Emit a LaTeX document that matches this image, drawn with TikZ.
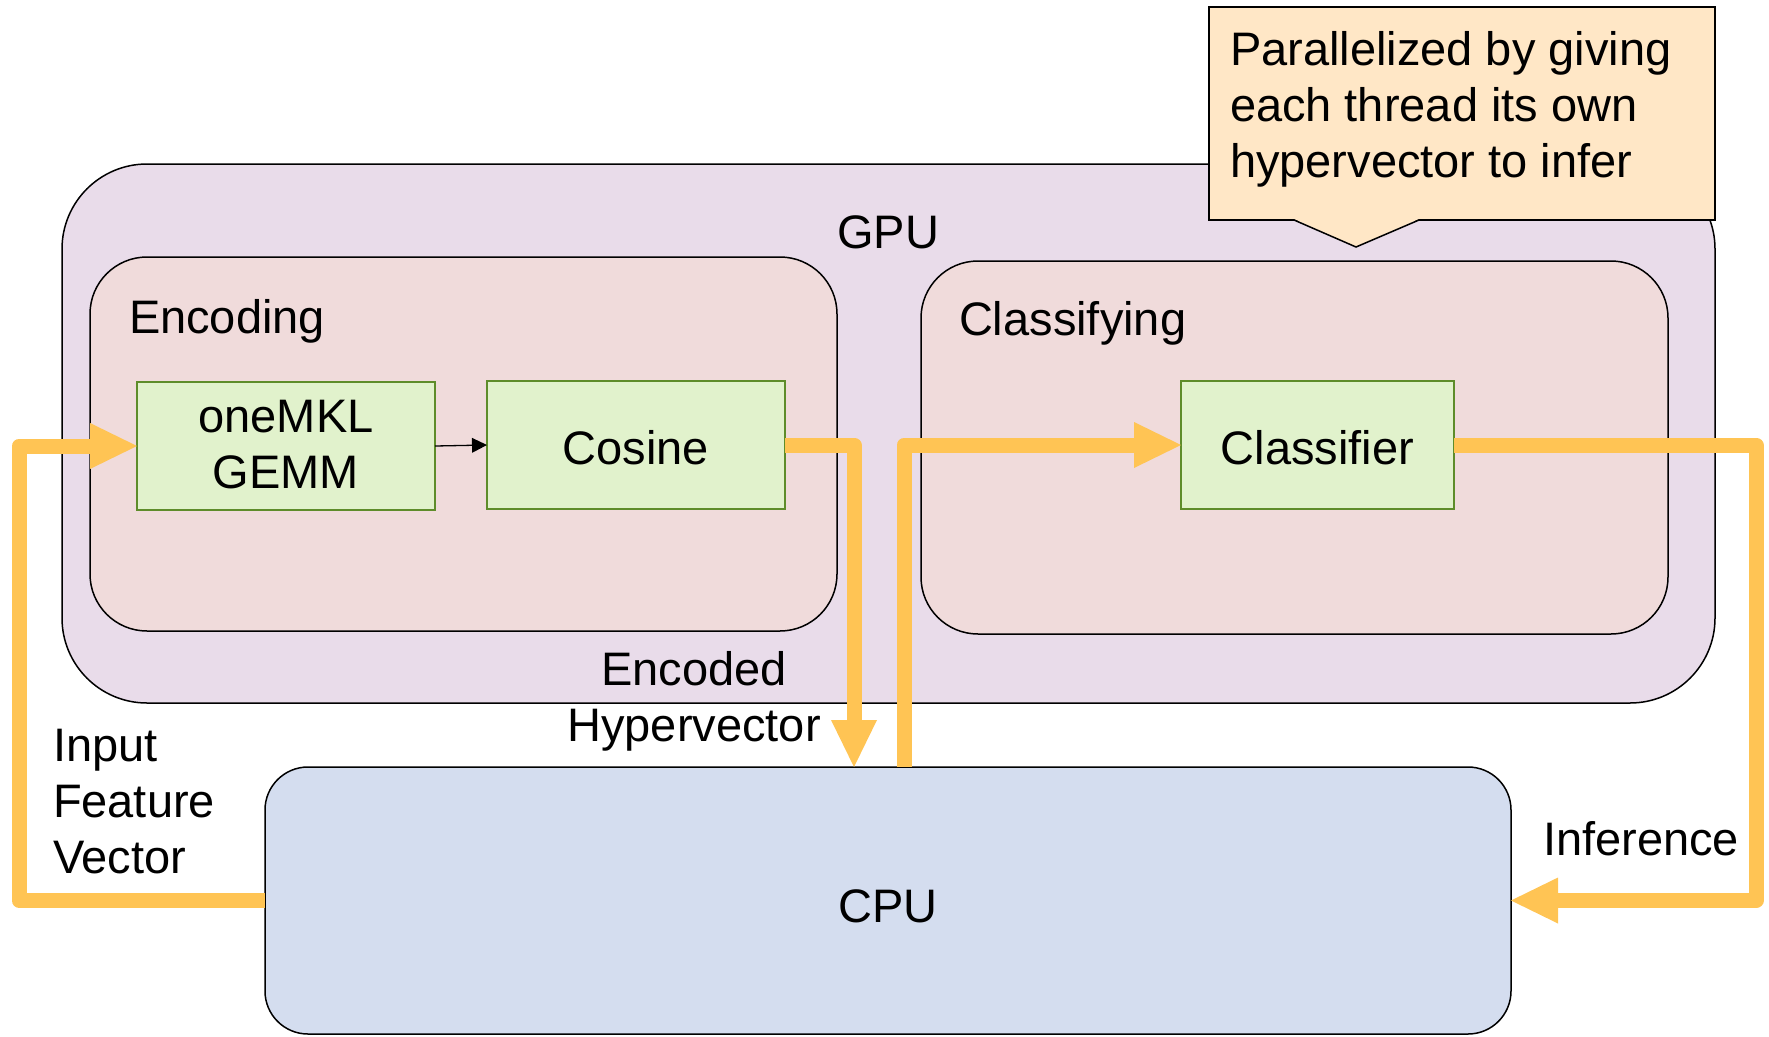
\documentclass[tikz,border=0pt]{standalone}
\usepackage{fontspec}
\setmainfont{Liberation Sans}
\usetikzlibrary{arrows.meta,calc}
\definecolor{gpufill}{HTML}{E9DCEA}
\definecolor{stagefill}{HTML}{F0DBDB}
\definecolor{opfill}{HTML}{E1F2CC}
\definecolor{opline}{HTML}{5E8C2A}
\definecolor{cpufill}{HTML}{D4DDEF}
\definecolor{notefill}{HTML}{FFE7C6}
\definecolor{flowcol}{HTML}{FFC454}

\begin{document}
\begin{tikzpicture}[x=1pt,y=-1pt,
  every node/.style={font=\fontsize{47}{56}\selectfont, inner sep=0pt, outer sep=0pt},
  region/.style={draw=black, line width=1.5pt, rectangle},
  op/.style={draw=opline, fill=opfill, line width=1.5pt, rectangle, minimum height=128pt},
  flow/.style={draw=flowcol, line width=15pt, line join=round,
    -{Triangle[length=47pt,width=46pt,line width=0pt]}},
]
\useasboundingbox (0,0) rectangle (1769,1036);

% device regions and processing stages
\node[region, fill=gpufill, rounded corners=85pt, minimum width=1653pt, minimum height=539pt] (gpu) at (888.5,433.5) {};
\node[region, fill=stagefill, rounded corners=57pt, minimum width=747pt, minimum height=374pt] (enc) at (463.5,444) {};
\node[region, fill=stagefill, rounded corners=57pt, minimum width=747pt, minimum height=373pt] (cls) at (1294.5,447.5) {};
\node[op, minimum width=298pt, align=center, text depth=4pt] (gemm) at (286,446) {oneMKL\\GEMM};
\node[op, minimum width=298pt, text height=38pt, text depth=0pt] (cosine) at (636,445) {Cosine};
\node[op, minimum width=273pt, text height=38pt, text depth=0pt] (classifier) at (1317.5,445) {Classifier};
\node[region, fill=cpufill, rounded corners=43pt, minimum width=1246pt, minimum height=267pt,
  text height=43pt, text depth=0pt] (cpu) at (888,900.5) {CPU};

% region titles and data labels
\node[anchor=base] (gpulabel) at (888,248) {GPU};
\node[anchor=base west] (enclabel) at (129,333) {Encoding};
\node[anchor=base west] (clslabel) at (959,335) {Classifying};
\node[align=center] (hvlabel) at (694,701) {Encoded\\Hypervector};
\node[align=left, anchor=north west] (fvlabel) at (53,729) {Input\\Feature\\Vector};
\node[anchor=base west] (inflabel) at (1543,855) {Inference};

% note with pointer
\node[draw=black, line width=1.5pt, fill=notefill, minimum width=506pt, minimum height=213pt] (callout) at (1462,113.5) {};
\fill[notefill] ([shift={(85pt,1pt)}]callout.south west) -- ([shift={(147pt,-27pt)}]callout.south west)
  -- ([shift={(210pt,1pt)}]callout.south west) -- cycle;
\draw[line width=1.5pt] ([xshift=85pt]callout.south west) -- ([shift={(147pt,-27pt)}]callout.south west)
  -- ([xshift=210pt]callout.south west);
\node[anchor=north west, align=left] (note) at (1230,31) {Parallelized by giving\\each thread its own\\hypervector to infer};

% data flow
\draw[line width=1.3pt, -{Triangle[length=15pt,width=15pt,line width=0pt]}] (gemm.east) -- (cosine.west);
\coordinate (inbend) at (19,446);
\draw[flow] (cpu.west) -| (inbend) -- (gemm.west);
\coordinate (encbend) at (854,445);
\draw[flow] (cosine.east) -- (encbend) -- (encbend |- cpu.north);
\coordinate (clsbend) at (904,445);
\draw[flow] (clsbend |- cpu.north) -- (clsbend) -- (classifier.west);
\coordinate (infbend) at (1756,445);
\draw[flow] (classifier.east) -- (infbend) |- (cpu.east);
\end{tikzpicture}
\end{document}
